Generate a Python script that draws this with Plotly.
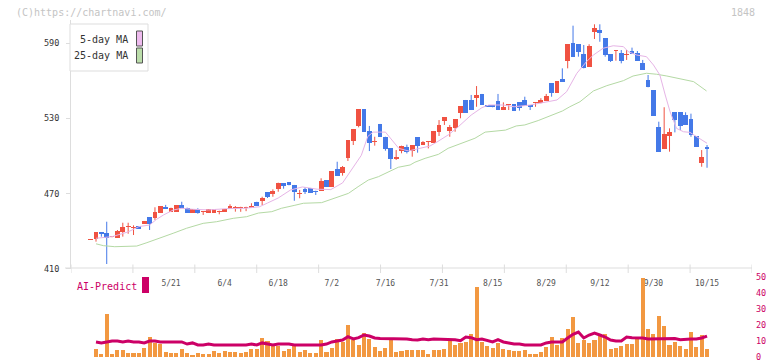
import plotly.graph_objects as go

# ---------------- data ----------------
candle_idx = list(range(-1, 115))
opens = [433.4, 433.6, 439.4, 438.9, 435.2, 434.9, 439.2, 443.0, 442.8, 444.2, 445.8,
         451.0, 450.8, 454.8, 459.3, 455.3, 455.6, 461.2, 458.8, 454.8, 457.7,
         455.0, 454.8, 454.8, 455.3, 455.6, 458.0, 458.4, 458.2, 458.2, 458.5,
         463.5, 464.3, 471.0, 469.7, 473.7, 478.2, 479.2, 476.9, 470.0, 473.4,
         474.5, 472.3, 472.1, 480.8, 475.5, 490.0, 486.7, 498.1, 511.9, 524.1,
         537.4, 519.9, 511.0, 525.5, 515.3, 506.3, 497.9, 503.9, 507.4, 503.9,
         515.1, 508.7, 511.0, 510.6, 519.3, 527.8, 519.9, 522.5, 534.5, 544.6,
         544.6, 546.4, 549.4, 540.6, 540.6, 543.8, 536.6, 540.6, 541.2, 542.7,
         544.6, 540.6, 542.0, 541.9, 543.8, 557.9, 550.4, 561.3, 575.9, 589.8,
         589.2, 581.2, 571.1, 599.0, 600.4, 593.7, 581.2, 584.0, 582.3, 580.8,
         583.6, 582.3, 574.3, 560.5, 552.5, 523.1, 505.5, 516.1, 534.8, 534.8,
         532.6, 529.4, 515.9, 494.6, 507.1]
highs = [433.6, 439.2, 439.4, 447.6, 435.7, 441.0, 446.8, 446.8, 444.7, 444.2, 448.2,
         451.0, 459.1, 460.1, 461.0, 458.8, 460.9, 463.5, 458.8, 457.7, 458.3,
         455.6, 457.4, 457.4, 456.4, 457.7, 461.5, 460.1, 459.5, 459.5, 462.3,
         463.5, 467.5, 471.0, 473.4, 478.7, 478.2, 479.2, 476.9, 472.9, 475.0,
         474.5, 472.3, 482.2, 480.8, 488.0, 495.4, 492.0, 512.7, 521.5, 537.4,
         537.4, 523.9, 515.3, 525.5, 515.3, 506.3, 504.7, 508.2, 509.0, 508.7,
         515.1, 511.8, 511.8, 519.9, 528.6, 531.0, 524.7, 529.4, 539.8, 544.6,
         548.6, 555.7, 549.4, 540.6, 540.6, 549.4, 542.7, 541.2, 541.2, 542.7,
         547.2, 540.6, 542.7, 546.0, 549.4, 557.9, 559.7, 569.8, 589.2, 603.8,
         589.2, 588.4, 589.0, 604.9, 604.9, 593.7, 581.2, 584.4, 584.4, 584.4,
         586.3, 583.6, 576.5, 564.5, 552.5, 527.3, 538.8, 522.0, 534.8, 534.8,
         534.8, 533.7, 515.9, 504.7, 508.7]
lows = [433.4, 431.7, 435.7, 413.9, 435.2, 434.9, 435.7, 438.0, 437.0, 442.1, 445.8,
        441.0, 449.0, 454.8, 457.7, 455.3, 455.6, 458.3, 454.8, 454.8, 454.0,
        453.0, 454.8, 454.8, 453.5, 455.6, 458.0, 455.6, 455.5, 456.0, 458.5,
        460.1, 460.9, 466.5, 467.5, 471.5, 473.9, 476.6, 464.3, 466.3, 469.7,
        470.7, 468.9, 472.1, 475.5, 475.5, 484.3, 484.3, 496.0, 508.7, 522.8,
        519.3, 503.9, 508.2, 515.3, 504.2, 489.6, 496.8, 502.1, 502.0, 499.4,
        502.6, 508.7, 506.0, 510.6, 515.9, 524.7, 515.3, 519.3, 530.0, 534.5,
        536.6, 539.2, 540.6, 539.2, 538.8, 536.6, 536.6, 536.6, 535.8, 536.1,
        540.1, 536.6, 539.2, 541.9, 543.8, 547.2, 550.4, 559.2, 569.8, 579.1,
        579.1, 569.8, 571.1, 593.2, 591.0, 579.1, 574.9, 575.9, 573.8, 576.5,
        581.2, 575.9, 568.5, 554.7, 532.1, 503.4, 505.5, 503.4, 518.8, 520.7,
        524.7, 515.3, 507.4, 491.4, 490.6]
closes = [433.6, 439.2, 437.6, 434.9, 435.7, 440.2, 443.4, 443.4, 443.2, 442.1, 448.2,
          445.8, 455.3, 460.1, 457.7, 458.8, 460.9, 458.3, 454.8, 457.7, 454.8,
          455.6, 457.4, 457.4, 456.4, 457.7, 460.4, 458.8, 458.5, 458.8, 460.4,
          460.1, 466.7, 467.5, 472.3, 478.7, 476.1, 476.6, 471.5, 470.2, 471.3,
          470.7, 471.0, 480.3, 475.5, 488.0, 484.3, 490.9, 512.7, 521.5, 537.4,
          519.3, 510.6, 511.4, 515.3, 505.5, 497.6, 498.9, 508.2, 502.9, 508.7,
          508.2, 511.4, 511.6, 519.9, 524.7, 531.0, 523.3, 529.4, 539.8, 534.5,
          536.6, 548.6, 540.6, 539.2, 538.8, 536.6, 538.8, 541.2, 535.8, 538.4,
          540.1, 539.0, 542.7, 544.3, 548.0, 549.9, 559.7, 559.2, 589.2, 579.1,
          583.1, 569.8, 587.6, 601.7, 597.7, 580.4, 575.7, 584.4, 575.9, 581.2,
          581.2, 575.9, 568.5, 554.7, 532.1, 503.4, 517.5, 519.3, 528.6, 524.1,
          524.7, 516.7, 507.4, 499.4, 505.8]

ma5_idx = [0, 3, 6, 8, 10, 11.3, 12.6, 14.4, 16, 18, 21, 24.4, 27.8, 30.5, 32, 34,
           36.3, 38.5, 41.3, 43.8, 46, 47.7, 49.5, 50.7, 51.7, 54, 55.3, 56.5, 58.3,
           60, 62.3, 63.8, 65.8, 67.6, 70, 72, 73.3, 76, 78, 81, 84, 86, 87.8, 89.7,
           91.5, 92.8, 94.6, 96.5, 98.4, 99.3, 100.9, 102.7, 104, 105.2, 106.2, 107.1,
           108.3, 109.6, 110.8, 112.1, 114]
ma5_val = [434.4, 435.7, 439.5, 443.7, 445.0, 449.5, 453.0, 456.9, 458.3, 457.5, 457.0,
           458.0, 458.3, 459.5, 462.5, 466.5, 472.9, 475.3, 473.5, 473.2, 478.5, 488.8,
           500.5, 515.5, 519.0, 519.0, 512.7, 506.0, 504.0, 505.5, 507.9, 511.6, 517.0,
           523.3, 532.6, 538.5, 540.6, 540.6, 539.2, 540.6, 542.7, 544.6, 551.2, 565.8,
           575.1, 580.4, 585.8, 587.8, 587.1, 583.1, 580.4, 579.1, 572.5, 564.5, 548.6,
           535.3, 522.0, 519.3, 518.8, 515.3, 510.1]

ma25_idx = [0, 1.4, 3.5, 5.7, 7.6, 9.5, 11.9, 14.4, 16.9, 20, 22.5, 25.6, 28.1, 30.3,
            32.8, 34.6, 37.1, 38.7, 42.1, 44, 45.8, 47.1, 48.9, 50.8, 52.7, 54.5, 56.4,
            58.6, 59.5, 61.4, 63.9, 65.7, 68.2, 70.7, 72.6, 76.4, 78.4, 80, 82.5, 85,
            87, 88.4, 90.3, 92.8, 95.3, 98.4, 100.2, 102.7, 104.6, 106.5, 109, 111.5,
            113.9]
ma25_val = [430.0, 428.5, 427.7, 428.2, 428.2, 430.9, 434.4, 438.4, 442.4, 446.3, 447.6,
            450.3, 451.6, 454.5, 455.6, 458.3, 460.7, 462.3, 462.8, 465.5, 468.1, 470.2,
            475.5, 480.8, 483.5, 487.4, 491.0, 492.8, 495.0, 498.1, 501.3, 506.1, 510.1,
            514.1, 519.0, 520.6, 523.9, 524.7, 528.2, 532.6, 535.8, 539.2, 543.2, 551.8,
            556.0, 560.0, 563.7, 565.9, 565.1, 563.7, 561.3, 559.2, 551.8]

vol_idx = list(range(0, 115))
volume = [5.2, 2.1, 27.1, 2.1, 4.6, 4.6, 2.7, 2.7, 2.7, 5.8, 12.7, 9.0, 8.3, 3.3, 2.7,
          2.7, 5.2, 2.7, 1.5, 2.7, 2.1, 2.1, 4.0, 2.7, 4.0, 3.3, 3.3, 2.7, 3.3, 5.2,
          5.2, 12.1, 10.2, 8.3, 7.1, 4.0, 5.2, 7.1, 3.3, 4.6, 2.7, 2.7, 10.8, 3.3, 5.8,
          11.5, 9.6, 20.2, 10.8, 7.7, 15.2, 11.5, 6.5, 4.0, 5.8, 10.8, 3.3, 4.0, 4.6,
          4.6, 4.6, 4.6, 2.1, 4.6, 4.6, 5.2, 10.8, 7.7, 9.0, 9.6, 14.6, 44.0, 9.6, 7.1,
          5.8, 9.0, 5.2, 4.6, 4.0, 4.0, 4.6, 2.1, 2.1, 3.3, 6.5, 12.7, 7.7, 12.1, 17.7,
          25.2, 9.0, 10.8, 9.0, 10.8, 13.3, 14.6, 5.2, 5.8, 7.1, 8.3, 8.3, 11.5, 49.6,
          17.7, 14.6, 25.8, 19.6, 7.7, 9.6, 7.1, 5.2, 15.8, 6.5, 14.0, 5.2]
ai_predict = [9.4, 8.8, 9.4, 10.0, 10.0, 9.4, 10.0, 9.4, 9.4, 8.8, 10.0, 10.0, 9.4, 9.4,
              9.4, 9.4, 9.4, 8.1, 8.8, 7.5, 7.5, 8.1, 7.5, 7.5, 7.5, 7.5, 7.5, 7.5, 7.5,
              8.1, 7.5, 8.8, 8.1, 7.5, 8.1, 8.1, 8.1, 7.5, 7.5, 7.5, 7.5, 7.5, 7.5, 8.1,
              9.4, 10.0, 10.6, 12.7, 11.25, 12.1, 13.75, 13.1, 11.9, 11.5, 11.5, 11.5,
              11.5, 11.5, 11.25, 10.8, 10.6, 11.25, 10.8, 11.25, 11.25, 10.8, 11.25,
              10.8, 10.2, 12.5, 12.1, 10.8, 11.25, 10.2, 9.4, 10.8, 9.4, 8.8, 8.1, 8.1,
              7.5, 7.5, 7.5, 7.5, 8.8, 9.4, 9.4, 9.4, 11.9, 14.2, 15.6, 11.9, 13.75,
              15.0, 13.75, 12.5, 10.6, 10.0, 10.0, 12.5, 12.1, 12.1, 11.9, 11.25, 11.25,
              11.5, 11.5, 11.5, 11.5, 10.8, 11.25, 11.25, 11.25, 11.9, 13.1]

date_idx = [14, 24, 34, 44, 54, 64, 74, 84, 94, 104, 114]
date_labels = ["5/21", "6/4", "6/18", "7/2", "7/16", "7/31", "8/15", "8/29",
               "9/12", "9/30", "10/15"]
price_ticks = [410, 470, 530, 590]
ai_ticks = [0, 10, 20, 30, 40, 50]

# ---------------- styling ----------------
W, H = 772, 361
ML, MR, MT, MB = 71, 20, 20, 1
PW, PH = W - ML - MR, H - MT - MB
RED, BLUE = "#f05242", "#4479e8"
ORANGE, CRIMSON = "#f29841", "#cc0066"
PINK, GREEN = "#e6b4e6", "#b4d9a4"
MONO = "DejaVu Sans Mono, monospace"


def px(x):
    return (x - ML) / PW


def py(y):
    return (H - MB - y) / PH


x_left = (71 - 96) / 5.36
x_right = (752 - 96) / 5.36

fig = go.Figure()

for up, col in ((True, RED), (False, BLUE)):
    sel = [k for k in range(len(candle_idx)) if (closes[k] >= opens[k]) == up]
    wx, wy = [], []
    for k in sel:
        wx += [candle_idx[k], candle_idx[k], None]
        wy += [lows[k], highs[k], None]
    fig.add_trace(go.Scatter(x=wx, y=wy, mode="lines", line=dict(color=col, width=1),
                             hoverinfo="skip", showlegend=False))
    fig.add_trace(go.Bar(x=[candle_idx[k] for k in sel],
                         base=[min(opens[k], closes[k]) for k in sel],
                         y=[max(abs(closes[k] - opens[k]), 0.8) for k in sel],
                         width=0.9, marker=dict(color=col, line=dict(width=0)),
                         showlegend=False))

fig.add_trace(go.Scatter(x=ma25_idx, y=ma25_val, mode="lines",
                         line=dict(color=GREEN, width=1), showlegend=False))
fig.add_trace(go.Scatter(x=ma5_idx, y=ma5_val, mode="lines",
                         line=dict(color=PINK, width=1), showlegend=False))

fig.add_trace(go.Bar(x=vol_idx, y=volume, width=0.76, marker=dict(color=ORANGE, line=dict(width=0)),
                     xaxis="x2", yaxis="y2", showlegend=False))
fig.add_trace(go.Scatter(x=vol_idx, y=ai_predict, mode="lines",
                         line=dict(color=CRIMSON, width=3), xaxis="x2", yaxis="y2",
                         showlegend=False))

main_bottom = py(269)
fig.update_layout(
    template="none",
    width=W, height=H, margin=dict(l=ML, r=MR, t=MT, b=MB, autoexpand=False),
    paper_bgcolor="white", plot_bgcolor="white", barmode="overlay", bargap=0,
    showlegend=False,
    xaxis=dict(domain=[0, 1], range=[x_left, x_right], anchor="y", automargin=False,
               tickmode="array", tickvals=date_idx, ticktext=date_labels,
               ticks="outside", ticklen=6, tickcolor="rgba(0,0,0,0)",
               tickfont=dict(family=MONO, size=8, color="#555"),
               showgrid=False, zeroline=False, showline=False),
    xaxis2=dict(domain=[0, 1], range=[x_left, x_right], anchor="y2", matches="x",
                visible=False, automargin=False),
    yaxis=dict(domain=[main_bottom, 1], range=[590 - (269 - 43) / 1.255, 590 + (43 - MT) / 1.255],
               automargin=False,
               tickmode="array", tickvals=price_ticks, ticks="outside", ticklen=4,
               tickcolor="#dddddd", showline=True, linecolor="#dddddd", linewidth=1,
               tickfont=dict(family=MONO, size=8.5, color="#333"),
               ticklabelstandoff=5, showgrid=False, zeroline=False),
    yaxis2=dict(domain=[0, py(276)], range=[-(360 - 357) / 1.6, (357 - 276) / 1.6],
                anchor="x2", side="right", automargin=False,
                tickmode="array", tickvals=ai_ticks, ticks="",
                ticklabeloverflow="allow",
                tickfont=dict(family=MONO, size=8.5, color=CRIMSON),
                ticklabelstandoff=3, showgrid=False, zeroline=False, showline=False),
)

shapes = []
# x axis base line and crossing ticks
shapes.append(dict(type="line", xref="paper", yref="paper", x0=px(65), x1=1,
                   y0=py(268), y1=py(268), line=dict(color="#dddddd", width=1)))
for k in range(12):
    xt = x_left + k * (x_right - x_left) / 11
    shapes.append(dict(type="line", xref="x", yref="paper", x0=xt, x1=xt,
                       y0=py(264.5), y1=py(273), line=dict(color="#dddddd", width=1)))
# legend box
shapes.append(dict(type="rect", xref="paper", yref="paper", x0=px(70), x1=px(148),
                   y0=py(71), y1=py(24), line=dict(color="#dddddd", width=1),
                   fillcolor="white", layer="above"))
shapes.append(dict(type="rect", xref="paper", yref="paper", x0=px(136.5), x1=px(142.5),
                   y0=py(46), y1=py(31), line=dict(color="#555", width=1),
                   fillcolor="#eebbee", layer="above"))
shapes.append(dict(type="rect", xref="paper", yref="paper", x0=px(136.5), x1=px(142.5),
                   y0=py(63), y1=py(48), line=dict(color="#555", width=1),
                   fillcolor="#bbddaa", layer="above"))
# AI-Predict marker
shapes.append(dict(type="rect", xref="paper", yref="paper", x0=px(142), x1=px(149),
                   y0=py(293), y1=py(277), line=dict(width=0), fillcolor=CRIMSON))
fig.update_layout(shapes=shapes)

ann = [
    dict(text="(C)https://chartnavi.com/", x=px(14), y=py(12.5), xanchor="left",
         font=dict(family=MONO, size=10, color="#c4c4c4")),
    dict(text="1848", x=px(757), y=py(12.5), xanchor="right",
         font=dict(family=MONO, size=10, color="#c4c4c4")),
    dict(text="5-day MA", x=px(130), y=py(39.5), xanchor="right",
         font=dict(family=MONO, size=10, color="#333")),
    dict(text="25-day MA", x=px(130), y=py(56), xanchor="right",
         font=dict(family=MONO, size=10, color="#333")),
    dict(text="AI-Predict", x=px(75), y=py(286), xanchor="left",
         font=dict(family=MONO, size=10, color=CRIMSON)),
]
for a in ann:
    a.update(xref="paper", yref="paper", showarrow=False, yanchor="middle")
fig.update_layout(annotations=ann)

fig.write_html(
    "out.html",
    config={"displayModeBar": False, "staticPlot": True},
    post_script="document.body.style.margin='0';document.body.style.padding='0';"
                "document.body.style.overflow='hidden';",
)
